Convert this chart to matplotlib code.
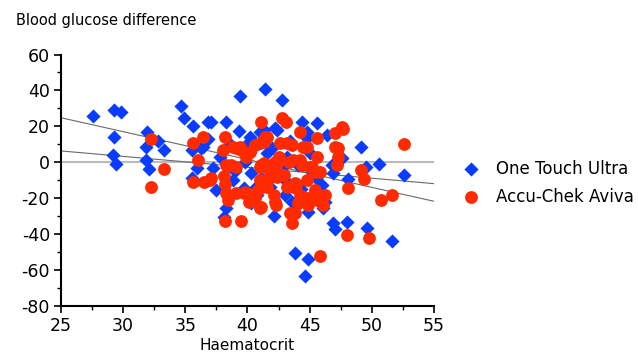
import numpy as np
import matplotlib
matplotlib.use("Agg")
import matplotlib.pyplot as plt
from matplotlib.ticker import MultipleLocator, FuncFormatter

# One Touch Ultra: haematocrit vs blood glucose difference
ott_x = [27.6, 29.3, 29.8, 29.3, 29.2, 29.4, 31.9, 31.8, 31.8, 32.1, 32.8, 33.3,
         34.65, 34.9, 35.6, 36.85, 35.5, 36.3, 35.9, 35.5, 39.4, 41.4, 42.75, 37.1,
         38.25, 39.3, 40.2, 41.3, 42.35, 45.6, 44.8, 36.4, 43.8, 44.85, 44.6, 38.1,
         42.1, 37.5, 39.7, 40.3, 49.1, 50.6, 52.6, 48.1, 49.5, 46.9, 47.6, 47.0,
         48.0, 49.6, 51.6, 46.0, 46.1, 41.0, 42.2, 44.4, 44.8, 46.4, 40.3, 41.1,
         40.7, 43.15, 45.2, 46.2, 46.9, 38.3, 44.9, 44.1, 40.2, 46.8, 37.8, 38.6,
         39.8, 41.6, 42.8, 43.4, 43.0, 44.3, 40.8, 39.0, 37.2, 42.0, 43.6, 45.5,
         36.8, 45.0, 41.8, 38.8, 40.0, 43.2]
ott_y = [26, 29, 28, 14, 4, -1, 17, 8.4, 1.3, -3.5, 12, 6.8,
         31.3, 24.8, 20.2, 22.3, 6.8, 7.8, -3.3, -8.9, 36.9, 40.8, 34.7, 22.6,
         22.6, 17.4, 14.3, 18, 18, 21.7, 17, 8.7, -50.3, -53.7, -63.3, -30.3,
         -29.7, -15.4, -14.5, -22.8, 8.4, -1.1, -7.1, -9.3, -2.4, -6.1, 2.2, -37.3,
         -33.1, -36.8, -43.8, -12.6, -25.6, 17, 18.9, 22.6, 13.4, 15.2, -6.1, -8.9,
         -13.6, -10.8, -5.2, -21.9, -34, -25.6, -27.5, -1.5, 5.9, -1.5, 3, 10,
         0, 5, -3, 12, -18, -15, -18, -5, -3, 8, -22, -9,
         13, 5, -14, -10, 10, 3]

# Accu-Chek Aviva
acc_x = [32.2, 33.3, 32.2, 35.6, 36.4, 36.0, 35.6, 36.5, 37.1, 38.1, 38.2, 38.45,
         39.05, 39.7, 38.2, 39.45, 41.1, 42.8, 43.1, 38.2, 38.05, 38.3, 39.1, 40.5,
         41.0, 42.1, 43.4, 43.55, 42.3, 44.1, 41.0, 41.55, 38.8, 39.5, 39.9, 41.0,
         41.55, 42.1, 42.6, 43.7, 43.7, 44.2, 44.5, 39.1, 40.2, 41.3, 43.15, 44.8,
         45.6, 42.5, 41.3, 44.2, 42.35, 45.0, 37.0, 41.0, 43.15, 44.9, 45.6, 45.85,
         41.55, 43.9, 47.7, 47.05, 52.6, 47.3, 47.05, 45.6, 47.2, 49.1, 49.4, 45.4,
         48.1, 50.7, 51.65, 48.0, 49.75, 46.1, 45.4, 47.6, 47.3, 39.4, 40.6, 41.4,
         42.6, 43.55, 44.6, 38.7, 41.1, 42.2, 43.3, 44.4, 45.2, 45.85, 41.8, 42.9,
         43.8, 44.8, 45.4, 38.3, 39.8, 41.3, 41.0, 40.6, 41.1, 42.2, 43.8, 44.2,
         44.8, 46.2, 40.8, 41.3, 41.8, 42.3, 40.1]
acc_y = [13, -3.5, -14, 11, 14, 1.5, -11.2, -11.2, -8.9, -7.5, -12.2, -21,
         -16.9, -17.3, -32.5, -32.5, 22.6, 24.5, 22.6, 13.9, 6.8, -1.5, -2.5, -20,
         -25.6, -18.2, -28.4, -34, -23.8, -22.8, 10.6, 14.3, 8.7, 6.8, 3.1, -2.5,
         -9.9, -4.3, 1.3, 1.3, -13.6, 17, 8.7, 7.8, 5.9, 11.5, 10.6, 8.7,
         13.4, 3.1, -0.6, 1.3, -8, -2.5, -9.9, -9.9, -13.6, -23.8, -21, -52.2,
         -13.6, -12.6, 18.4, 16.1, 10.2, 7.8, 8.7, 3.1, -1.5, -4.3, -9.5, -5.2,
         -14.5, -21, -18.2, -40.5, -42.3, -23.8, -17.3, 19.8, 3.1, 8.7, 9.6, 14.3,
         10.6, 9.6, 8.7, -1.5, -1.5, 0.3, 0.3, -1.5, -2.5, -5.2, -8, -7.1,
         -11.7, -9.9, -15.4, -17.3, -16.4, -10.8, -14.5, -20, -24.7, -21.9, -28.4, -18.2,
         -20, -18.2, -16, -12, -6, -2, -22]

# linear fits shown on the chart (slope, intercept)
fit_slopes = [-1.55, -0.607]
fit_intercepts = [63.55, 21.5]
fit_x = [25, 55]

blue = "#0a3cff"
red = "#ff2a00"

fig = plt.figure(figsize=(6.38, 3.62), dpi=100)
ax = fig.add_axes([0.0956, 0.1547, 0.5846, 0.6947])

ax.plot(fit_x, [0, 0], color="#bbbbbb", lw=1.5, zorder=1)
for m, b in zip(fit_slopes, fit_intercepts):
    ax.plot(fit_x, [m * v + b for v in fit_x], color="#6a6a6a", lw=0.8, zorder=1)

ax.scatter(ott_x, ott_y, marker="D", s=52, color=blue, linewidths=0,
           label="One Touch Ultra", zorder=2)
ax.scatter(acc_x, acc_y, marker="o", s=85, color=red, linewidths=0,
           label="Accu-Chek Aviva", zorder=3)

ax.set_xlim(25, 55)
ax.set_ylim(-80, 60)
ax.xaxis.set_major_locator(MultipleLocator(5))
ax.xaxis.set_minor_locator(MultipleLocator(2.5))
ax.yaxis.set_major_locator(MultipleLocator(20))
ax.yaxis.set_minor_locator(MultipleLocator(10))
ax.yaxis.set_major_formatter(FuncFormatter(lambda v, p: "%d" % v))

for side in ["top", "right"]:
    ax.spines[side].set_visible(False)
for side in ["left", "bottom"]:
    ax.spines[side].set_linewidth(1.5)

ax.tick_params(which="major", direction="out", length=5, width=1.2,
               labelsize=12.5, pad=3)
ax.tick_params(which="minor", direction="out", length=3, width=1.0)

ax.set_xlabel("Haematocrit", fontsize=11, labelpad=2)
fig.text(16 / 638, 1 - 20 / 362, "Blood glucose difference", fontsize=10.5,
         ha="left", va="center")

ax.legend(loc="center left", bbox_to_anchor=(1.058, 0.49), frameon=False,
          fontsize=12, handletextpad=1.05, labelspacing=0.6, scatterpoints=1,
          borderpad=0, handlelength=0.9)

fig.savefig("out.png", dpi=100)
